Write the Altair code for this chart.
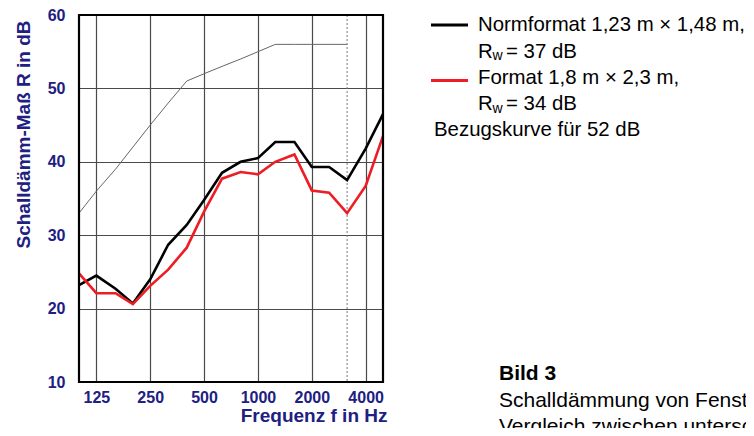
import altair as alt
import pandas as pd

# third-octave centre frequencies (Hz)
freq = [100, 125, 160, 200, 250, 315, 400, 500, 630, 800, 1000, 1250, 1600, 2000, 2500, 3150, 4000, 5000]
# Normformat 1,23 m x 1,48 m (black)
normformat = [23.2, 24.5, 22.7, 20.7, 24.0, 28.7, 31.4, 34.8, 38.5, 40.0, 40.5, 42.7, 42.7, 39.3, 39.3, 37.5, 41.8, 46.5]
# Format 1,8 m x 2,3 m (red)
format_gross = [24.8, 22.1, 22.1, 20.6, 23.1, 25.3, 28.3, 33.2, 37.7, 38.6, 38.3, 40.0, 41.0, 36.1, 35.8, 33.0, 36.7, 43.5]
# reference curve for 52 dB (ISO 717), 100 .. 3150 Hz
ref_freq = [100, 125, 160, 200, 250, 315, 400, 500, 630, 800, 1000, 1250, 1600, 2000, 2500, 3150]
bezug = [33, 36, 39, 42, 45, 48, 51, 52, 53, 54, 55, 56, 56, 56, 56, 56]
limit_freq = [3150]

x_ticks = [125, 250, 500, 1000, 2000, 4000]
y_ticks = [10, 20, 30, 40, 50, 60]

legend_texts = ["Normformat 1,23 m \u00d7 1,48 m,", "Format 1,8 m \u00d7 2,3 m,", "Bezugskurve f\u00fcr 52 dB"]
rw_values = ["= 37 dB", "= 34 dB"]
caption = ["Bild 3", "Schalldämmung von Fenstern –", "Vergleich zwischen unterschiedlichen Formaten"]

NAVY = "#202080"
FONT = "Liberation Sans"
W, H = 304, 367
LEG = 20.4

xscale = alt.Scale(type="log", domain=[100, 5000], nice=False)
yscale = alt.Scale(domain=[10, 60], nice=False)

xaxis = alt.Axis(values=x_ticks, format="d", title="Frequenz f in Hz", labelFont=FONT, labelFontSize=16,
                 labelFontWeight="bold", labelColor=NAVY, labelPadding=7, ticks=False, tickSize=0,
                 domain=False, grid=True, gridColor="#4a4a4a", gridWidth=1.2, labelFlush=False,
                 titleFont=FONT, titleFontSize=19, titleFontWeight="bold", titleColor=NAVY,
                 titleX=308, titleY=33, titleAlign="right", titleBaseline="middle", labelOverlap=False)
yaxis = alt.Axis(values=y_ticks, title="Schalldämm-Maß R in dB", labelFont=FONT, labelFontSize=16,
                 labelFontWeight="bold", labelColor=NAVY, labelPadding=14, ticks=False, tickSize=0,
                 domain=False, grid=True, gridColor="#4a4a4a", gridWidth=1.2, labelFlush=False,
                 titleFont=FONT, titleFontSize=19, titleFontWeight="bold", titleColor=NAVY,
                 titleX=-56, titleY=119, titleAngle=-90, titleAlign="center", titleBaseline="middle")

df = pd.DataFrame({"f": freq * 2,
                   "R": normformat + format_gross,
                   "s": ["Normformat"] * len(freq) + ["Format"] * len(freq)})
df_ref = pd.DataFrame({"f": ref_freq, "R": bezug})
df_lim = pd.DataFrame({"f": limit_freq})

grid_base = alt.Chart(df).mark_point(opacity=0).encode(
    x=alt.X("f:Q", scale=xscale, axis=xaxis),
    y=alt.Y("R:Q", scale=yscale, axis=yaxis),
)

limit = alt.Chart(df_lim).mark_rule(color="#777777", strokeDash=[2, 2], strokeWidth=1).encode(
    x=alt.X("f:Q", scale=xscale), y=alt.value(0), y2=alt.value(H))

ref_line = alt.Chart(df_ref).mark_line(color="#666666", strokeWidth=1).encode(
    x=alt.X("f:Q", scale=xscale), y=alt.Y("R:Q", scale=yscale))

lines = alt.Chart(df).mark_line(strokeWidth=2.6).encode(
    x=alt.X("f:Q", scale=xscale),
    y=alt.Y("R:Q", scale=yscale),
    color=alt.Color("s:N", scale=alt.Scale(domain=["Normformat", "Format"], range=["#000000", "#ee1c24"]),
                    legend=None),
    order=alt.Order("s:N"),
)

one = pd.DataFrame({"k": [0]})

frame = alt.Chart(one).mark_rect(fill=None, fillOpacity=0, stroke="#000000", strokeWidth=2.2).encode(
    x=alt.value(0), x2=alt.value(W), y=alt.value(0), y2=alt.value(H))


def rule(x1, x2, y, color):
    return alt.Chart(one).mark_rule(color=color, strokeWidth=3).encode(
        x=alt.value(x1), x2=alt.value(x2), y=alt.value(y))


def txt(s, x, y, size=21, weight="normal"):
    return alt.Chart(pd.DataFrame({"t": [s]})).mark_text(
        align="left", baseline="middle", font=FONT, fontSize=size, fontWeight=weight, color="#000000"
    ).encode(x=alt.value(x), y=alt.value(y), text="t:N")


annot = [
    rule(352, 389, 10, "#000000"),
    txt(legend_texts[0], 399, 10, size=LEG),
    txt("R", 399, 36.5, size=LEG), txt("w", 413.5, 41, size=14), txt(rw_values[0], 427, 36.5, size=LEG),
    rule(352, 389, 65.5, "#ee1c24"),
    txt(legend_texts[1], 399, 63, size=LEG),
    txt("R", 399, 89, size=LEG), txt("w", 413.5, 93.5, size=14), txt(rw_values[1], 427, 89, size=LEG),
    txt(legend_texts[2], 355, 115, size=LEG),
    txt(caption[0], 420, 359, weight="bold"),
    txt(caption[1], 420, 385.5),
    txt(caption[2], 420, 412),
]

chart = alt.layer(grid_base, limit, ref_line, lines, frame, *annot).properties(
    width=W, height=H,
    autosize=alt.AutoSizeParams(type="none"),
    padding={"left": 71, "top": 7, "right": 363, "bottom": 46},
).configure_view(stroke=None).configure(background="white")

chart.save("out.html", embed_options={"renderer": "svg", "actions": False})
